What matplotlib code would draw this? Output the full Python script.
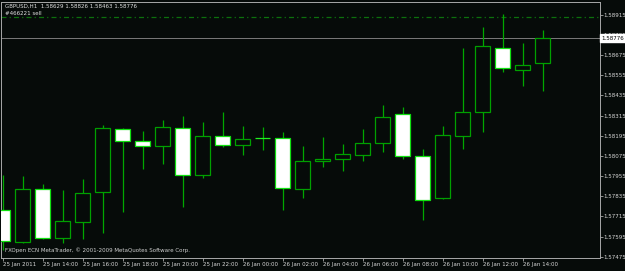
import matplotlib.pyplot as plt

# GBPUSD H1 candles, 25 Jan 12:00 -> 26 Jan 15:00
opens = [1.57753, 1.57564, 1.57878, 1.57585, 1.57680, 1.57858, 1.58237, 1.58162,
         1.58136, 1.58239, 1.57959, 1.58191, 1.58138, 1.58180, 1.58180, 1.57878,
         1.58046, 1.58055, 1.58078, 1.58150, 1.58322, 1.58076, 1.57824, 1.58195,
         1.58336, 1.58717, 1.58588, 1.58629]
highs = [1.57961, 1.57955, 1.57908, 1.57872, 1.57936, 1.58259, 1.58240, 1.58225,
         1.58289, 1.58312, 1.58278, 1.58336, 1.58253, 1.58245, 1.58217, 1.58134,
         1.58186, 1.58146, 1.58237, 1.58378, 1.58366, 1.58114, 1.58253, 1.58717,
         1.58842, 1.58917, 1.58748, 1.58826]
lows = [1.57515, 1.57555, 1.57579, 1.57555, 1.57579, 1.57618, 1.57743, 1.57999,
        1.58028, 1.57769, 1.57945, 1.58130, 1.58080, 1.58110, 1.57753, 1.57826,
        1.58011, 1.57987, 1.58046, 1.58100, 1.58056, 1.57693, 1.57817, 1.58118,
        1.58217, 1.58576, 1.58491, 1.58463]
closes = [1.57569, 1.57876, 1.57585, 1.57688, 1.57856, 1.58239, 1.58165, 1.58136,
          1.58245, 1.57959, 1.58191, 1.58138, 1.58177, 1.58180, 1.57882, 1.58045,
          1.58055, 1.58084, 1.58150, 1.58308, 1.58076, 1.57814, 1.58197, 1.58334,
          1.58727, 1.58596, 1.58618, 1.58776]

time_labels = ['25 Jan 2011', '25 Jan 14:00', '25 Jan 16:00', '25 Jan 18:00',
               '25 Jan 20:00', '25 Jan 22:00', '26 Jan 00:00', '26 Jan 02:00',
               '26 Jan 04:00', '26 Jan 06:00', '26 Jan 08:00', '26 Jan 10:00',
               '26 Jan 12:00', '26 Jan 14:00']
price_ticks = [1.58915, 1.58795, 1.58675, 1.58555, 1.58435, 1.58315, 1.58195,
               1.58075, 1.57955, 1.57835, 1.57715, 1.57595, 1.57475]
order_price = 1.58900
last_price = 1.58776

BG = '#060b09'
GRID = '#a8a8a8'
WICK = '#00a800'
BULL_EDGE = '#00a000'
BEAR_EDGE = '#10e010'

plt.rcParams['font.family'] = 'DejaVu Sans'

fig = plt.figure(figsize=(6.25, 2.71), dpi=100, facecolor=BG)
ax = fig.add_axes([1 / 625, 13.5 / 271, 598.5 / 625, 256 / 271])
ax.set_facecolor(BG)

x = list(range(len(opens)))

# wicks behind the bodies
ax.vlines(x, lows, highs, color=WICK, linewidth=0.9, zorder=2)

for i in x:
    o, c = opens[i], closes[i]
    if c > o:
        face, edge = BG, BULL_EDGE
    elif c < o:
        face, edge = 'white', BEAR_EDGE
    else:
        face, edge = BG, '#20f020'
    ax.bar(i, c - o, bottom=o, width=0.75, color=face, edgecolor=edge,
           linewidth=0.9, zorder=3)

# order line and last price line
ax.axhline(order_price, color='#0c700c', linewidth=0.9,
           dashes=(4, 2.5, 1, 2.5), zorder=1)
ax.axhline(last_price, color='#8c8c8c', linewidth=0.6, zorder=1)

ax.set_xlim(-0.085, 29.84)
ax.set_ylim(1.57470, 1.58994)

for s in ax.spines.values():
    s.set_color(GRID)
    s.set_linewidth(0.7)

ax.set_xticks(x[::2])
ax.set_xticklabels(time_labels, ha='left')
ax.yaxis.tick_right()
ax.set_yticks(price_ticks)
ax.set_yticklabels([f'{p:.5f}' for p in price_ticks])
ax.tick_params(axis='both', colors=GRID, labelcolor='#d8d8d8', labelsize=4,
               length=2, width=0.6, pad=1)

# last price box on the price scale
ax.text(1.003, last_price, f'{last_price:.5f}', transform=ax.get_yaxis_transform(),
        fontsize=4, color='black', va='center', ha='left', zorder=10, clip_on=False,
        bbox=dict(boxstyle='square,pad=0.25', facecolor='white', edgecolor='white'))

fig.text(5 / 625, 1 - 6 / 271, 'GBPUSD,H1  1.58629 1.58826 1.58463 1.58776',
         fontsize=4, color='#e0e0e0', va='center', ha='left')
fig.text(5 / 625, 1 - 13.5 / 271, '#466221 sell',
         fontsize=4, color='#e0e0e0', va='center', ha='left')
fig.text(5 / 625, 1 - 250 / 271,
         'FXOpen ECN MetaTrader, \u00a9 2001-2009 MetaQuotes Software Corp.',
         fontsize=4, color='#d0d0d0', va='center', ha='left')

fig.savefig('out.png', dpi=100, facecolor=BG)
